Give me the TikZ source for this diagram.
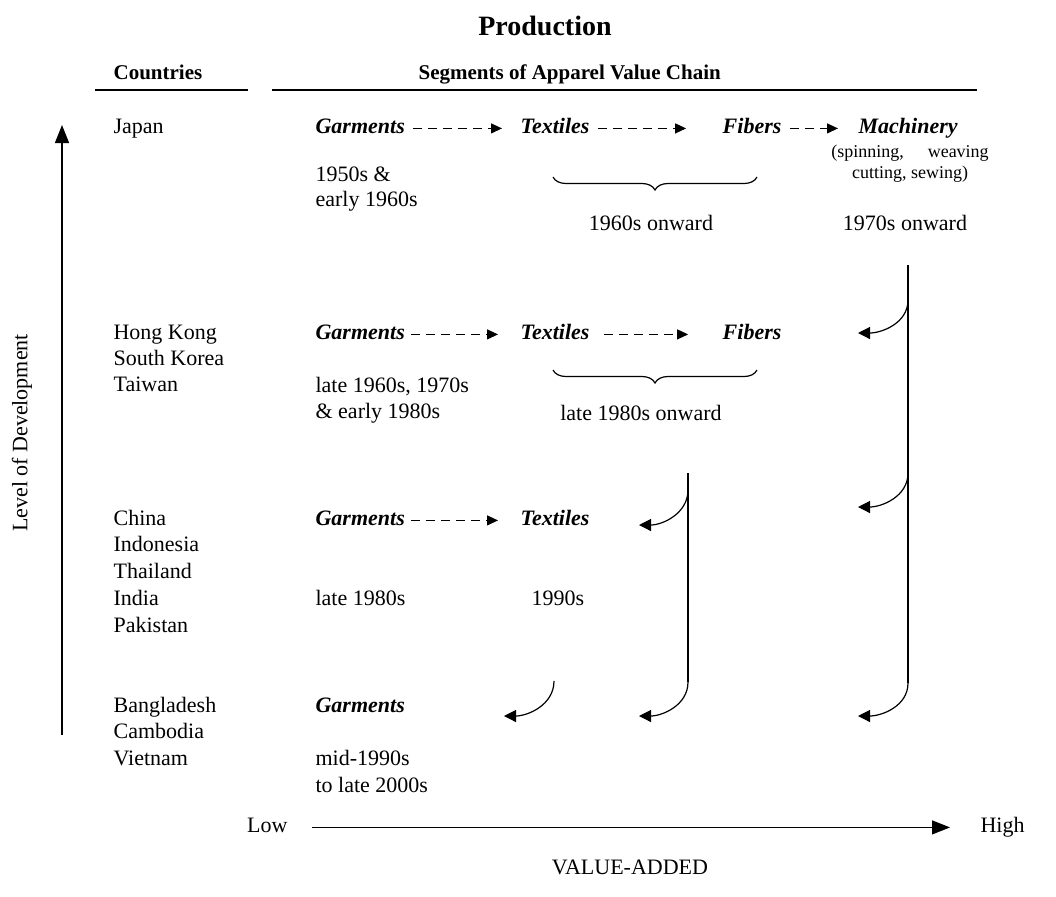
\documentclass[tikz,border=0pt]{standalone}
\usepackage{fontspec}
\setmainfont{Liberation Serif}
\usetikzlibrary{arrows.meta}
\usetikzlibrary{decorations.pathreplacing}

\begin{document}
\begin{tikzpicture}[x=0.5pt,y=-0.5pt,line width=0.6pt,
  lbl/.style={anchor=base west,inner sep=0pt,font=\fontsize{11}{13}\selectfont},
  seg/.style={lbl,font=\fontsize{11}{13}\selectfont\bfseries\itshape},
  small/.style={anchor=base,inner sep=0pt,font=\fontsize{9}{11}\selectfont},
  head/.style={anchor=base west,inner sep=0pt,font=\fontsize{10.5}{12}\selectfont\bfseries},
  flow/.style={dash pattern=on 4.5pt off 3pt,-{Triangle[length=5.5pt,width=5pt]}},
  upgrade/.style={-{Triangle[length=6pt,width=6pt]}},
  axis/.style={-{Triangle[length=9pt,width=7pt]}},
  period/.style={decorate,decoration={brace,mirror,amplitude=6.5pt}}]
\useasboundingbox (0,0) rectangle (1056,896);

% headings
\node[anchor=base,inner sep=0pt,font=\fontsize{14}{16}\selectfont\bfseries] (prod) at (545,35) {Production};
\node[head] (ctry) at (113,79) {Countries};
\node[head] (segs) at (418,79) {Segments of Apparel Value Chain};
\draw (95,90) -- (248,90);
\draw (272,90) -- (977,90);

% level of development
\coordinate (ybot) at (62,735);
\coordinate (ytop) at (62,125);
\draw[axis] (ybot) -- (ytop);
\node[rotate=90,inner sep=0pt,font=\fontsize{11}{13}\selectfont] (lvl) at (22,433) {Level of Development};

% Japan
\node[lbl] (jp) at (113,133) {Japan};
\node[seg] (g1) at (315,133) {Garments};
\node[seg] (t1) at (520,133) {Textiles};
\node[seg,anchor=base east] (f1) at (782,133) {Fibers};
\node[seg] (m1) at (858,133) {Machinery};
\draw[flow] ([xshift=4pt]g1.mid east) -- ([xshift=-9pt]t1.mid west);
\draw[flow] ([xshift=4pt]t1.mid east) -- ([xshift=-18pt]f1.mid west);
\draw[flow] ([xshift=4pt]f1.mid east) -- ([xshift=-10pt]m1.mid west);
\node[small] (m1a) at (910,157) {(spinning,\hspace{12pt}weaving};
\node[small] (m1b) at (910,178) {cutting, sewing)};
\node[lbl] (d1a) at (315,181) {1950s \&};
\node[lbl] (d1b) at (315,206) {early 1960s};
\draw[period] (553,177) -- (757,177);
\node[lbl,anchor=base] (d1c) at (651,230) {1960s onward};
\node[lbl,anchor=base] (d1d) at (905,230) {1970s onward};

% Hong Kong, South Korea, Taiwan
\node[lbl] (hk) at (113,339) {Hong Kong};
\node[lbl] (sk) at (113,365) {South Korea};
\node[lbl] (tw) at (113,391) {Taiwan};
\node[seg] (g2) at (315,339) {Garments};
\node[seg] (t2) at (520,339) {Textiles};
\node[seg,anchor=base east] (f2) at (782,339) {Fibers};
\draw[flow] ([xshift=3pt]g2.mid east) -- ([xshift=-11pt]t2.mid west);
\draw[flow] ([xshift=7pt]t2.mid east) -- ([xshift=-17pt]f2.mid west);
\node[lbl] (d2a) at (315,392) {late 1960s, 1970s};
\node[lbl] (d2b) at (315,418) {\& early 1980s};
\draw[period] (553,370) -- (757,370);
\node[lbl,anchor=base] (d2c) at (641,420) {late 1980s onward};

% China, Indonesia, Thailand, India, Pakistan
\node[lbl] (cn) at (113,525) {China};
\node[lbl] (id) at (113,551) {Indonesia};
\node[lbl] (th) at (113,578) {Thailand};
\node[lbl] (in) at (113,605) {India};
\node[lbl] (pk) at (113,632) {Pakistan};
\node[seg] (g3) at (315,525) {Garments};
\node[seg] (t3) at (520,525) {Textiles};
\draw[flow] ([xshift=3pt]g3.mid east) -- ([xshift=-11pt]t3.mid west);
\node[lbl] (d3a) at (315,605) {late 1980s};
\node[lbl,anchor=base] (d3b) at (558,605) {1990s};

% Bangladesh, Cambodia, Vietnam
\node[lbl] (bd) at (113,712) {Bangladesh};
\node[lbl] (kh) at (113,738) {Cambodia};
\node[lbl] (vn) at (113,765) {Vietnam};
\node[seg] (g4) at (315,712) {Garments};
\node[lbl] (d4a) at (315,765) {mid-1990s};
\node[lbl] (d4b) at (315,792) {to late 2000s};

% moves to higher segments
\coordinate (rtop) at (908,265);
\coordinate (rb1) at (908,300);
\coordinate (rb2) at (908,473);
\coordinate (rb3) at (908,683);
\coordinate (rt1) at (858,333);
\coordinate (rt2) at (858,507);
\coordinate (rt3) at (858,716);
\draw (rtop) -- (rb3);
\draw[upgrade] (rb1) to[out=-90,in=0] (rt1);
\draw[upgrade] (rb2) to[out=-90,in=0] (rt2);
\draw[upgrade] (rb3) to[out=-90,in=0] (rt3);

\coordinate (mtop) at (688,473);
\coordinate (mb1) at (688,490);
\coordinate (mb2) at (688,682);
\coordinate (mt1) at (639,525);
\coordinate (mt2) at (639,716);
\draw (mtop) -- (mb2);
\draw[upgrade] (mb1) to[out=-90,in=0] (mt1);
\draw[upgrade] (mb2) to[out=-90,in=0] (mt2);

\coordinate (sb1) at (554,681);
\coordinate (st1) at (504,716);
\draw[upgrade] (sb1) to[out=-90,in=0] (st1);

% value added
\node[lbl,anchor=base east] (low) at (288,832) {Low};
\node[lbl] (high) at (980,832) {High};
\draw[axis] ([xshift=12pt]low.mid east) -- ([xshift=-15pt]high.mid west);
\node[lbl,anchor=base] (va) at (630,874) {VALUE-ADDED};

\end{tikzpicture}
\end{document}
